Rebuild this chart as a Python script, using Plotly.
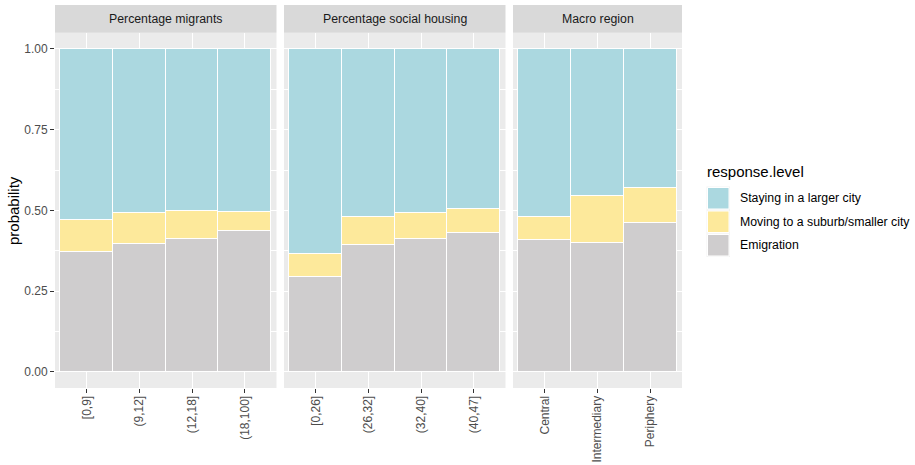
import plotly.graph_objects as go

# ---- data -------------------------------------------------------------
facet_titles = ["Percentage migrants", "Percentage social housing", "Macro region"]

cats_migrants = ["[0,9]", "(9,12]", "(12,18]", "(18,100]"]
cats_housing = ["[0,26]", "(26,32]", "(32,40]", "(40,47]"]
cats_region = ["Central", "Intermediary", "Periphery"]

emig_migrants = [0.371, 0.395, 0.413, 0.436]
move_migrants = [0.099, 0.097, 0.087, 0.061]
stay_migrants = [0.530, 0.508, 0.500, 0.503]

emig_housing = [0.293, 0.392, 0.413, 0.430]
move_housing = [0.074, 0.087, 0.078, 0.076]
stay_housing = [0.633, 0.521, 0.509, 0.494]

emig_region = [0.410, 0.401, 0.460]
move_region = [0.069, 0.143, 0.111]
stay_region = [0.521, 0.456, 0.429]

levels = ["Staying in a larger city", "Moving to a suburb/smaller city", "Emigration"]
level_colors = {"Staying in a larger city": "#ABD8E0",
                "Moving to a suburb/smaller city": "#FDE99B",
                "Emigration": "#CFCDCE"}

panels = [
    (cats_migrants, {"Emigration": emig_migrants,
                     "Moving to a suburb/smaller city": move_migrants,
                     "Staying in a larger city": stay_migrants}),
    (cats_housing, {"Emigration": emig_housing,
                    "Moving to a suburb/smaller city": move_housing,
                    "Staying in a larger city": stay_housing}),
    (cats_region, {"Emigration": emig_region,
                   "Moving to a suburb/smaller city": move_region,
                   "Staying in a larger city": stay_region}),
]

# ---- geometry (pixels) ------------------------------------------------
W, H = 915, 465
panel_x = [(55, 276.5), (284, 505.5), (513, 682)]
panel_top, panel_bottom = 32.85, 388
strip_top = 5

FONT = "Liberation Sans, Arial, sans-serif"
PANEL_BG = "#EBEBEB"
STRIP_BG = "#D9D9D9"

def px_x(v):
    return v / W

def px_y(v):
    return 1 - v / H

fig = go.Figure()

for i, (cats, series) in enumerate(panels):
    suffix = "" if i == 0 else str(i + 1)
    for lvl in ["Emigration", "Moving to a suburb/smaller city", "Staying in a larger city"]:
        fig.add_trace(go.Bar(
            x=cats, y=series[lvl], name=lvl,
            marker=dict(color=level_colors[lvl], line=dict(color="white", width=1)),
            width=1, showlegend=False,
            xaxis="x" + suffix, yaxis="y" + suffix,
        ))

    x0, x1 = panel_x[i]
    xaxis = dict(
        domain=[px_x(x0), px_x(x1)], anchor="y" + suffix,
        type="category", categoryorder="array", categoryarray=cats,
        range=[-0.6, len(cats) - 0.4],
        showgrid=True, gridcolor="white", gridwidth=1.1,
        ticks="outside", ticklen=4, tickwidth=1, tickcolor="#333333",
        tickangle=-90, ticklabelstandoff=-2,
        tickfont=dict(family=FONT, size=12, color="#4D4D4D"),
        showline=False, zeroline=False, fixedrange=True,
    )
    yaxis = dict(
        domain=[px_y(panel_bottom), px_y(panel_top)], anchor="x" + suffix,
        range=[-0.05, 1.05], tickvals=[0, 0.25, 0.5, 0.75, 1.0],
        tickformat=".2f",
        showgrid=True, gridcolor="white", gridwidth=1.1,
        minor=dict(tickvals=[0.125, 0.375, 0.625, 0.875], showgrid=True,
                   gridcolor="white", gridwidth=0.5),
        zeroline=False, showline=False, fixedrange=True,
        tickfont=dict(family=FONT, size=12, color="#4D4D4D"),
    )
    if i == 0:
        yaxis.update(ticks="outside", ticklen=4, tickwidth=1, tickcolor="#333333",
                     showticklabels=True)
    else:
        yaxis.update(ticks="", showticklabels=False)
    fig.layout["xaxis" + suffix] = xaxis
    fig.layout["yaxis" + suffix] = yaxis

shapes = []
annotations = []

# facet strips
for (x0, x1), title in zip(panel_x, facet_titles):
    shapes.append(dict(type="rect", xref="paper", yref="paper",
                       x0=px_x(x0), x1=px_x(x1), y0=px_y(panel_top), y1=px_y(strip_top),
                       fillcolor=STRIP_BG, line=dict(width=0), layer="below"))
    annotations.append(dict(xref="paper", yref="paper",
                            x=px_x((x0 + x1) / 2), y=px_y((strip_top + panel_top) / 2 + 0.5),
                            text=title, showarrow=False, xanchor="center", yanchor="middle",
                            font=dict(family=FONT, size=12.3, color="#1A1A1A")))

# y-axis title
annotations.append(dict(xref="paper", yref="paper", x=px_x(13.5), y=px_y(210.5),
                        text="probability", textangle=-90, showarrow=False,
                        xanchor="center", yanchor="middle",
                        font=dict(family=FONT, size=15, color="black")))

# legend
annotations.append(dict(xref="paper", yref="paper", x=px_x(704.5), y=px_y(171.5),
                        text="response.level", showarrow=False,
                        xanchor="left", yanchor="middle",
                        font=dict(family=FONT, size=15, color="black")))
key_x0, key_x1 = 706.5, 730
key_tops = [186.5, 210, 233.5]
for lvl, top in zip(levels, key_tops):
    bottom = top + 23.5
    shapes.append(dict(type="rect", xref="paper", yref="paper",
                       x0=px_x(key_x0), x1=px_x(key_x1), y0=px_y(bottom), y1=px_y(top),
                       fillcolor="#F2F2F2", line=dict(width=0)))
    shapes.append(dict(type="rect", xref="paper", yref="paper",
                       x0=px_x(key_x0 + 1), x1=px_x(key_x1 - 1),
                       y0=px_y(bottom - 1), y1=px_y(top + 1),
                       fillcolor=level_colors[lvl], line=dict(color="white", width=1)))
    annotations.append(dict(xref="paper", yref="paper", x=px_x(738), y=px_y((top + bottom) / 2),
                            text=lvl, showarrow=False, xanchor="left", yanchor="middle",
                            font=dict(family=FONT, size=12.3, color="black")))

fig.update_layout(
    width=W, height=H, margin=dict(l=0, r=0, t=0, b=0),
    paper_bgcolor="white", plot_bgcolor=PANEL_BG,
    barmode="stack", bargap=0, showlegend=False,
    shapes=shapes, annotations=annotations,
    font=dict(family=FONT),
)

fig.write_html("out.html")
